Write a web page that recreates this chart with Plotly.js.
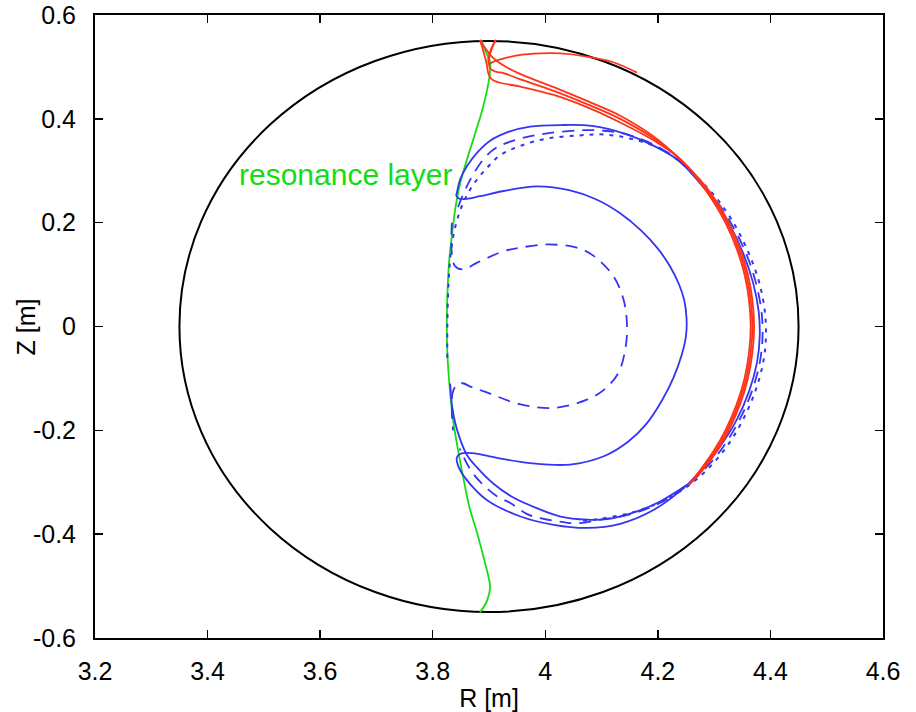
<!DOCTYPE html>
<html>
<head>
<meta charset="utf-8">
<script src="https://cdn.plot.ly/plotly-3.0.1.min.js"></script>
<style>html,body{margin:0;padding:0;background:#fff;}#chart{width:916px;height:712px;}</style>
</head>
<body>
<div id="chart"></div>
<script>
// ---- data ----
const xTickVals = [3.2, 3.4, 3.6, 3.8, 4.0, 4.2, 4.4, 4.6];
const xTickText = ["3.2", "3.4", "3.6", "3.8", "4", "4.2", "4.4", "4.6"];
const yTickVals = [0.6, 0.4, 0.2, 0, -0.2, -0.4, -0.6];
const yTickText = ["0.6", "0.4", "0.2", "0", "-0.2", "-0.4", "-0.6"];

// plasma boundary (circle) extent
const wallR = [3.35, 4.45];
const wallZ = [-0.55, 0.55];

// resonance layer
const resR = [3.886,3.896,3.902,3.901,3.890,3.876,3.861,3.849,3.840,3.834,3.829,3.826,3.825,3.826,3.830,3.836,3.846,3.855,3.865,3.879,3.890,3.899,3.902,3.897,3.884];
const resZ = [0.552,0.525,0.509,0.483,0.425,0.374,0.322,0.277,0.226,0.174,0.123,0.058,0.000,-0.051,-0.115,-0.179,-0.244,-0.295,-0.347,-0.398,-0.443,-0.482,-0.501,-0.527,-0.551];

// red rays
const redAR = [3.884,3.890,3.896,3.899,3.905,3.918,3.956,4.015,4.075,4.133,4.190,4.240,4.273,4.299,4.320,4.340,4.354,4.362,4.365,4.362,4.354,4.340,4.320,4.299,4.273,4.255];
const redAZ = [0.552,0.530,0.505,0.487,0.476,0.470,0.462,0.446,0.422,0.393,0.360,0.322,0.280,0.240,0.200,0.150,0.100,0.050,0.000,-0.050,-0.100,-0.150,-0.200,-0.240,-0.280,-0.305];
const redBR = [3.912,3.905,3.900,3.902,3.912,3.926,3.956,4.015,4.075,4.133,4.190,4.240,4.275,4.302,4.323,4.343,4.357,4.365,4.368,4.365,4.357,4.343,4.323,4.302,4.275,4.255];
const redBZ = [0.552,0.535,0.515,0.497,0.491,0.488,0.476,0.454,0.428,0.400,0.364,0.322,0.280,0.240,0.200,0.150,0.100,0.050,0.000,-0.050,-0.100,-0.150,-0.200,-0.240,-0.280,-0.305];
const redCR = [3.884,3.894,3.905,3.917,3.932,3.956,4.015,4.075,4.133,4.190,4.240,4.277,4.305,4.326,4.346,4.360,4.368,4.371,4.368,4.360,4.346,4.326,4.305,4.277,4.255];
const redCZ = [0.552,0.535,0.520,0.509,0.499,0.486,0.461,0.434,0.406,0.368,0.322,0.280,0.240,0.200,0.150,0.100,0.050,0.000,-0.050,-0.100,-0.150,-0.200,-0.240,-0.280,-0.305];
const redDR = [3.912,3.904,3.899,3.900,3.910,3.925,3.956,3.991,4.027,4.074,4.121,4.163];
const redDZ = [0.552,0.535,0.518,0.506,0.511,0.516,0.523,0.526,0.526,0.520,0.509,0.489];

// blue rays
const blueSolidR = [3.843,3.849,3.861,3.879,3.902,3.932,3.973,4.027,4.086,4.145,4.193,4.234,4.268,4.298,4.328,4.352,4.369,4.379,4.381,4.376,4.362,4.340,4.310,4.280,4.252,4.193,4.133,4.074,4.015,3.956,3.896,3.860,3.845,3.843,3.850,3.870,3.914,3.973,4.044,4.104,4.147,4.180,4.208,4.228,4.242,4.250,4.251,4.247,4.238,4.222,4.200,4.170,4.133,4.090,4.044,3.985,3.926,3.884,3.860,3.848,3.842,3.843];
const blueSolidZ = [0.258,0.284,0.309,0.335,0.358,0.374,0.385,0.388,0.386,0.370,0.348,0.322,0.285,0.245,0.195,0.140,0.085,0.030,-0.020,-0.070,-0.125,-0.180,-0.232,-0.272,-0.305,-0.353,-0.380,-0.388,-0.382,-0.366,-0.334,-0.295,-0.268,-0.252,-0.245,-0.244,-0.253,-0.263,-0.266,-0.250,-0.222,-0.187,-0.141,-0.098,-0.056,-0.018,0.015,0.050,0.080,0.115,0.150,0.185,0.218,0.245,0.262,0.270,0.261,0.251,0.246,0.246,0.252,0.258];
const blueSolid2R = [3.831,3.834,3.840,3.849,3.861,3.879,3.908,3.944,3.985,4.027,4.074,4.110,4.163,4.204,4.252];
const blueSolid2Z = [-0.110,-0.150,-0.186,-0.218,-0.248,-0.272,-0.303,-0.330,-0.350,-0.366,-0.372,-0.371,-0.356,-0.337,-0.305];
const blueDashInR = [3.834,3.834,3.840,3.855,3.879,3.926,3.956,4.003,4.056,4.086,4.121,4.139,4.145,4.143,4.130,4.104,4.074,4.015,3.956,3.896,3.870,3.849,3.837,3.834,3.836];
const blueDashInZ = [0.200,0.140,0.116,0.110,0.123,0.145,0.152,0.158,0.152,0.136,0.097,0.052,0.007,-0.038,-0.089,-0.122,-0.141,-0.157,-0.150,-0.127,-0.117,-0.109,-0.122,-0.160,-0.200];
const blueDashOutR = [3.845,3.861,3.890,3.914,3.956,4.003,4.062,4.104,4.145,4.193,4.234,4.270,4.302,4.332,4.357,4.374,4.384,4.386,4.381,4.367,4.345,4.316,4.283,4.245,4.200,4.150,4.098,4.056,4.033,3.991,3.967,3.938,3.914,3.887,3.867,3.848];
const blueDashOutZ = [0.230,0.271,0.322,0.345,0.362,0.372,0.378,0.377,0.370,0.350,0.322,0.285,0.245,0.195,0.140,0.085,0.030,-0.020,-0.070,-0.125,-0.180,-0.232,-0.275,-0.312,-0.342,-0.362,-0.372,-0.379,-0.377,-0.369,-0.361,-0.340,-0.327,-0.302,-0.276,-0.235];
const blueDotR = [3.826,3.826,3.828,3.833,3.842,3.855,3.873,3.896,3.920,3.956,4.003,4.060,4.104,4.150,4.200,4.234,4.272,4.306,4.337,4.362,4.380,4.390,4.392,4.387,4.373,4.351,4.322,4.288,4.250,4.205,4.155,4.100,4.060];
const blueDotZ = [-0.060,0.000,0.080,0.150,0.200,0.240,0.275,0.305,0.330,0.348,0.362,0.368,0.370,0.362,0.345,0.322,0.285,0.245,0.195,0.140,0.085,0.030,-0.020,-0.070,-0.125,-0.180,-0.232,-0.275,-0.310,-0.338,-0.358,-0.370,-0.375];

// ---- styles ----
const GREEN = '#14dc14', RED = '#ff3318', BLUE = '#3535f2';
const FONT = 'Liberation Sans, Arial, Helvetica, sans-serif';

function curve(x, y, color, width, dash) {
  return {x: x, y: y, type: 'scatter', mode: 'lines', hoverinfo: 'skip',
          line: {color: color, width: width, dash: dash || 'solid', shape: 'spline', smoothing: 1}};
}

const traces = [
  curve(resR, resZ, GREEN, 1.8),
  curve(blueSolidR, blueSolidZ, BLUE, 1.8),
  curve(blueSolid2R, blueSolid2Z, BLUE, 1.8),
  curve(blueDashInR, blueDashInZ, BLUE, 1.8, '12px,8px'),
  curve(blueDashOutR, blueDashOutZ, BLUE, 1.8, '12px,8px'),
  curve(blueDotR, blueDotZ, BLUE, 2, '4px,6px'),
  curve(redAR, redAZ, RED, 1.8),
  curve(redBR, redBZ, RED, 1.8),
  curve(redCR, redCZ, RED, 1.8),
  curve(redDR, redDZ, RED, 1.8)
];

const axisCommon = {
  showgrid: false, zeroline: false, showline: true, linecolor: '#000', linewidth: 2,
  mirror: 'ticks', ticks: 'inside', ticklen: 8, tickwidth: 1.5, tickcolor: '#000',
  tickfont: {family: FONT, size: 25, color: '#000'}, tickmode: 'array', automargin: false
};

const layout = {
  width: 916, height: 712,
  margin: {l: 95, r: 33, t: 15, b: 74},
  paper_bgcolor: '#fff', plot_bgcolor: '#fff',
  showlegend: false,
  xaxis: Object.assign({}, axisCommon, {
    range: [3.2, 4.6], tickvals: xTickVals, ticktext: xTickText, ticklabelstandoff: 10,
    title: {text: 'R [m]', font: {family: FONT, size: 25, color: '#000'}, standoff: 14}
  }),
  yaxis: Object.assign({}, axisCommon, {
    range: [-0.6, 0.6], tickvals: yTickVals, ticktext: yTickText, ticklabelstandoff: 12
  }),
  shapes: [{
    type: 'circle', xref: 'x', yref: 'y', layer: 'below',
    x0: wallR[0], x1: wallR[1], y0: wallZ[0], y1: wallZ[1],
    line: {color: '#000', width: 2}
  }],
  annotations: [{
    text: 'resonance layer', xref: 'x', yref: 'y', x: 3.452, y: 0.292,
    xanchor: 'left', yanchor: 'middle', showarrow: false,
    font: {family: FONT, size: 30, color: GREEN}
  }, {
    text: 'Z [m]', xref: 'paper', yref: 'paper', x: -0.0876, y: 0.5,
    xanchor: 'center', yanchor: 'middle', textangle: -90, showarrow: false,
    font: {family: FONT, size: 25, color: '#000'}
  }]
};

Plotly.newPlot('chart', traces, layout, {staticPlot: true, displayModeBar: false});
</script>
</body>
</html>
